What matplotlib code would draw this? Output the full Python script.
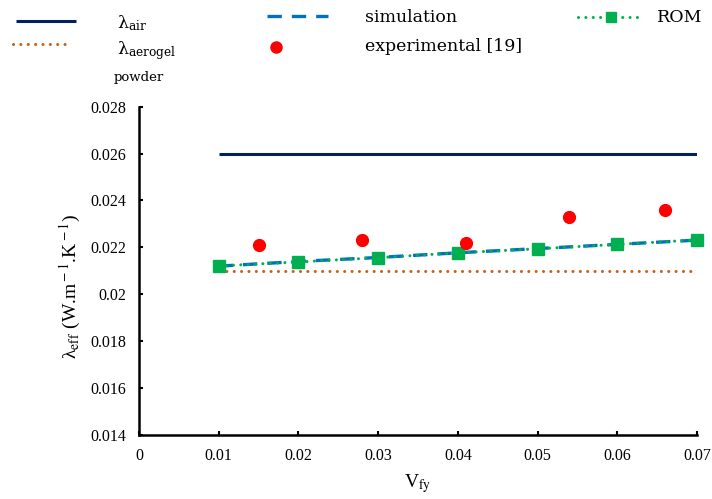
import numpy as np
import matplotlib
matplotlib.use('Agg')
import matplotlib.pyplot as plt
from matplotlib.lines import Line2D

# volume fraction and effective conductivity data
v_fy = [0.01, 0.02, 0.03, 0.04, 0.05, 0.06, 0.07]
lambda_air = [0.026] * 7
lambda_aerogel = [0.021] * 7
simulation = [0.0212, 0.0214, 0.02157, 0.02177, 0.02195, 0.02213, 0.02231]
rom = [0.02121, 0.02138, 0.02156, 0.02177, 0.02194, 0.02213, 0.02232]
v_exp = [0.015, 0.028, 0.041, 0.054, 0.066]
experimental = [0.0221, 0.0223, 0.0222, 0.0233, 0.0236]

x_ticks = [0, 0.01, 0.02, 0.03, 0.04, 0.05, 0.06, 0.07]
x_labels = ['0', '0.01', '0.02', '0.03', '0.04', '0.05', '0.06', '0.07']
y_ticks = [0.014, 0.016, 0.018, 0.02, 0.022, 0.024, 0.026, 0.028]
y_labels = ['0.014', '0.016', '0.018', '0.02', '0.022', '0.024', '0.026', '0.028']

c_air = '#002060'
c_aero = '#C8601A'
c_sim = '#0070C0'
c_exp = '#FF0000'
c_rom = '#00B050'

dots = (0, (0.01, 2.4))
dashes = (0, (4.3, 3.0))

W, H = 712, 499
fig = plt.figure(figsize=(W / 100, H / 100), dpi=100)
ax = fig.add_axes([139 / W, 1 - 435 / H, 558 / W, 328.3 / H])

ax.plot(v_fy, lambda_air, color=c_air, lw=2.2, solid_capstyle='butt')
ax.plot(v_fy, lambda_aerogel, color=c_aero, lw=2.2, linestyle=dots, dash_capstyle='round')
ax.plot(v_fy, simulation, color=c_sim, lw=2.4, linestyle=dashes)
ax.plot(v_fy, rom, color=c_rom, lw=2.2, linestyle=dots, dash_capstyle='round',
        marker='s', markersize=8, clip_on=False)
ax.plot(v_exp, experimental, 'o', color=c_exp, markersize=8.5, clip_on=False)

ax.set_xlim(0, 0.07)
ax.set_ylim(0.014, 0.028)
ax.set_xticks(x_ticks)
ax.set_xticklabels(x_labels)
ax.set_yticks(y_ticks)
ax.set_yticklabels(y_labels)

for side in ['top', 'right']:
    ax.spines[side].set_visible(False)
for side in ['left', 'bottom']:
    ax.spines[side].set_linewidth(1.8)
ax.tick_params(direction='in', length=3, width=1.5, labelsize=11.5)
ax.tick_params(axis='y', pad=9)
ax.tick_params(axis='x', pad=9)
for lab in ax.get_xticklabels() + ax.get_yticklabels():
    lab.set_family('Liberation Serif')

ax.set_xlabel(r'V$_{\rm fy}$', family='Liberation Serif', math_fontfamily='stix',
              fontsize=14, labelpad=6)
ax.set_ylabel(r'λ$_{\rm eff}$ (W.m$^{\rm -1}$.K$^{\rm -1}$)', family='Liberation Serif',
              math_fontfamily='stix', fontsize=14)
ax.yaxis.set_label_coords(-0.1, 0.451)


# legend drawn in figure pixel coordinates above the axes
def fx(px):
    return px / W


def fy(py):
    return 1 - py / H


def legend_line(x0, x1, y, **kw):
    fig.add_artist(Line2D([fx(x0), fx(x1)], [fy(y), fy(y)], transform=fig.transFigure, **kw))


def legend_text(x, y, s, size=12.5):
    fig.text(fx(x), fy(y), s, family='DejaVu Serif', math_fontfamily='dejavuserif',
             fontsize=size, va='baseline', ha='left')


legend_line(16, 76, 20.7, color=c_air, lw=2.2, solid_capstyle='butt')
legend_text(117, 28, r'λ$_{\mathrm{air}}$')
legend_line(13, 71, 44, color=c_aero, lw=2.2, linestyle=dots, dash_capstyle='round')
legend_text(117, 54, r'λ$_{\mathrm{aerogel}}$')
legend_text(114, 81, 'powder', size=9.5)

legend_line(267, 328, 16, color=c_sim, lw=2.4, linestyle=dashes)
legend_text(365, 22, 'simulation')
fig.add_artist(Line2D([fx(276)], [fy(47)], transform=fig.transFigure, marker='o',
                      color=c_exp, markersize=8, linestyle='none'))
legend_text(365, 51, 'experimental [19]')

fig.add_artist(Line2D([fx(578), fx(611), fx(637)], [fy(17)] * 3, transform=fig.transFigure,
                      color=c_rom, lw=2.2, linestyle=dots, dash_capstyle='round',
                      marker='s', markersize=7.5, markevery=[1]))
legend_text(657, 22, 'ROM')

fig.savefig('out.png', dpi=100)
